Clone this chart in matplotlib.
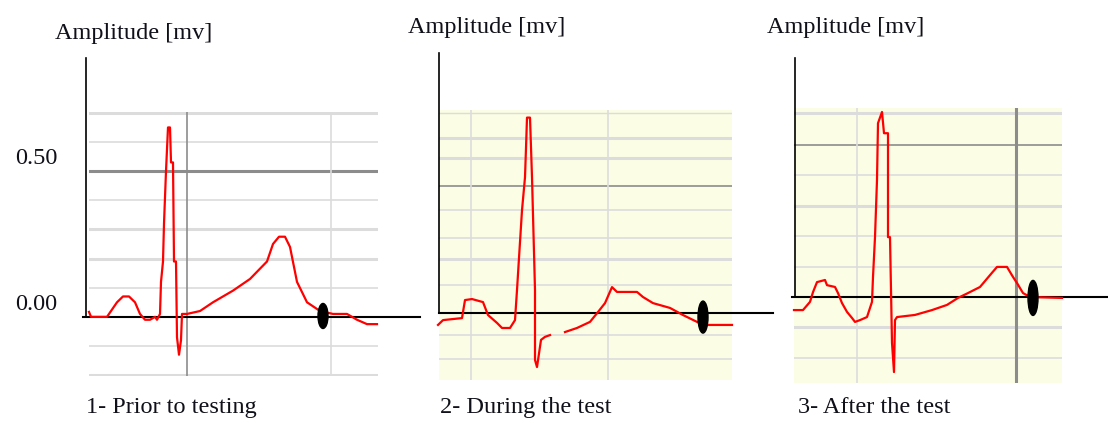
import numpy as np
import matplotlib.pyplot as plt
from matplotlib.patches import Ellipse

plt.rcParams['font.family'] = ['Liberation Serif', 'DejaVu Serif']

# ECG traces (x: samples, y: amplitude in mV)
prior_x = [0, 2, 18, 22, 28, 34, 40, 46, 51, 56, 61, 66, 68, 71, 72, 74, 75, 77, 79, 81,
           82, 84, 85, 87, 88, 90, 92, 93, 98, 111, 124, 144, 161, 178, 184, 190, 196,
           201, 208, 218, 231, 244, 258, 268, 278, 288]
prior_y = [0.017, 0.0, 0.0, 0.02, 0.05, 0.07, 0.07, 0.05, 0.01, -0.01, -0.01, 0.0, -0.01,
           0.01, 0.12, 0.19, 0.32, 0.5, 0.65, 0.65, 0.53, 0.53, 0.19, 0.19, -0.07, -0.13,
           -0.08, 0.01, 0.01, 0.02, 0.05, 0.09, 0.13, 0.19, 0.25, 0.275, 0.275, 0.24, 0.12,
           0.05, 0.02, 0.01, 0.01, -0.01, -0.025, -0.025]

during_x = [-1, 4, 23, 26, 33, 44, 49, 58, 63, 71, 76, 78, 80, 83, 86, 87, 88, 91, 93, 96,
            96, 98, 102, 106, 111, np.nan, 126, 138, 151, 159, 166, 173, 178, 198, 204, 214,
            231, 244, 258, 264, 293]
during_y = [-0.047, -0.028, -0.02, 0.051, 0.055, 0.043, -0.008, -0.039, -0.059, -0.059,
            -0.028, 0.09, 0.217, 0.405, 0.535, 0.65, 0.77, 0.77, 0.535, 0.09, -0.185, -0.213,
            -0.106, -0.094, -0.087, np.nan, -0.075, -0.059, -0.035, 0.004, 0.039, 0.102,
            0.083, 0.083, 0.063, 0.039, 0.02, -0.008, -0.035, -0.047, -0.047]

after_x = [0, 9, 16, 19, 23, 31, 33, 41, 44, 48, 53, 58, 61, 66, 73, 78, 79, 81, 83, 84, 88,
           90, 94, 94, 96, 98, 100, 101, 103, 121, 138, 153, 164, 174, 186, 196, 203, 213,
           219, 223, 229, 236, 268]
after_y = [-0.043, -0.043, -0.016, 0.016, 0.049, 0.056, 0.039, 0.033, 0.013, -0.02, -0.049,
           -0.069, -0.082, -0.076, -0.066, -0.016, 0.066, 0.197, 0.385, 0.572, 0.609, 0.539,
           0.539, 0.197, 0.197, -0.151, -0.247, -0.076, -0.066, -0.059, -0.043, -0.026,
           -0.003, 0.013, 0.033, 0.072, 0.099, 0.099, 0.066, 0.046, 0.013, 0.0, -0.003]

# cursor position on each trace
cursor_x = [234, 264, 239]
cursor_y = [0.003, -0.016, -0.003]

captions = ['1- Prior to testing', '2- During the test', '3- After the test']
ylabel = 'Amplitude [mv]'
tick_values = [0.50, 0.00]

W, H = 1108, 423
LIGHT = '#dcdcdc'
DARK = '#8c8c8c'
TXT = '#10101a'


def add_panel(fig, box, ylim, xs, ys, cx, cy, bg, hlines, vlines, zero_ext, vaxis, cur_h):
    # box is the grid area in pixels (left, top, right, bottom)
    x0, y0, x1, y1 = box
    ax = fig.add_axes([x0 / W, 1 - y1 / H, (x1 - x0) / W, (y1 - y0) / H])
    ax.set_xlim(0, x1 - x0)
    ax.set_ylim(*ylim)
    ax.set_axis_off()
    scale = (y1 - y0) / (ylim[1] - ylim[0])

    if bg:
        ax.axhspan(ylim[0], ylim[1], color=bg, zorder=0, lw=0)
    for v, c, lw in hlines:
        ax.axhline(v, color=c, lw=lw, zorder=1)
    for v, c, lw in vlines:
        ax.axvline(v, color=c, lw=lw, zorder=1)

    # axis lines
    ax.plot(zero_ext, [0, 0], color='black', lw=1.5, zorder=3, clip_on=False)
    ax.plot([vaxis[0], vaxis[0]], [0, vaxis[1]], color='black', lw=1.2, zorder=3,
            clip_on=False)

    ax.plot(xs, ys, color='red', lw=1.6, zorder=4, clip_on=False)
    ax.add_patch(Ellipse((cx, cy), width=10, height=cur_h / scale, color='black', zorder=5))
    return ax


fig = plt.figure(figsize=(W / 100, H / 100), dpi=100)

add_panel(fig, (89, 112, 378, 376), (-0.203, 0.703), prior_x, prior_y, cursor_x[0],
          cursor_y[0], None,
          [(0.7, LIGHT, 2.2), (0.6, LIGHT, 1.2), (0.5, DARK, 2.2), (0.4, LIGHT, 1.2),
           (0.3, LIGHT, 2.2), (0.2, LIGHT, 2.2), (0.1, LIGHT, 1.2), (-0.1, LIGHT, 1.2),
           (-0.2, LIGHT, 2.2)],
          [(98, DARK, 1.2), (242, LIGHT, 1.2)],
          [-6, 331], (-3, 0.89), 25)

add_panel(fig, (439, 110, 732, 380), (-0.264, 0.8), during_x, during_y, cursor_x[1],
          cursor_y[1], '#fbfde4',
          [(0.79, LIGHT, 1.0), (0.69, LIGHT, 2.2), (0.61, LIGHT, 2.2), (0.5, DARK, 1.2),
           (0.405, LIGHT, 1.2), (0.295, LIGHT, 1.2), (0.213, LIGHT, 2.2), (0.11, LIGHT, 1.2),
           (-0.087, LIGHT, 1.2), (-0.181, LIGHT, 1.2)],
          [(32, LIGHT, 1.2), (169, LIGHT, 1.2)],
          [0, 334], (0, 1.024), 32)

add_panel(fig, (794, 108, 1062, 383), (-0.283, 0.622), after_x, after_y, cursor_x[2],
          cursor_y[2], '#fbfde4',
          [(0.605, LIGHT, 2.2), (0.5, DARK, 1.2), (0.4, LIGHT, 1.2), (0.3, LIGHT, 2.2),
           (0.2, LIGHT, 1.2), (0.1, LIGHT, 1.2), (-0.1, LIGHT, 2.2), (-0.2, LIGHT, 1.2)],
          [(63, LIGHT, 1.2), (222, DARK, 2.2)],
          [-2, 314], (1, 0.786), 35)

# labels
for x, y in [(55, 33), (408, 28), (767, 28)]:
    fig.text(x / W, 1 - y / H, ylabel, fontsize=17.5, color=TXT, ha='left', va='center')
for v, y in zip(tick_values, [158, 304]):
    fig.text(57 / W, 1 - y / H, '%.2f' % v, fontsize=17.5, color=TXT, ha='right',
             va='center')
for x, cap in zip([86, 440, 798], captions):
    fig.text(x / W, 1 - 407 / H, cap, fontsize=17.5, color=TXT, ha='left', va='center')

plt.savefig('out.png', dpi=100)
